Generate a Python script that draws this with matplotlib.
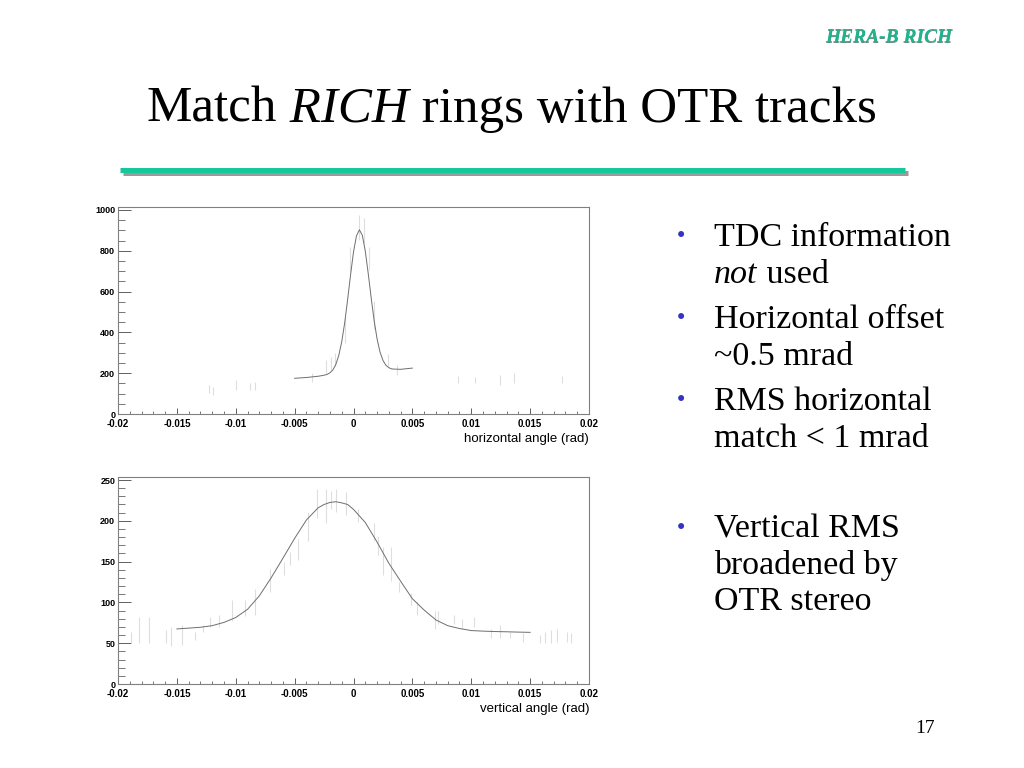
import matplotlib
matplotlib.use('Agg')
import matplotlib.pyplot as plt
from matplotlib.ticker import MultipleLocator
from matplotlib.lines import Line2D

# ---- data ----
# horizontal angle: fit curve
h_fit_x = [-0.005, -0.0045, -0.004, -0.0035, -0.003, -0.0025, -0.00225, -0.002, -0.00175,
           -0.0015, -0.00125, -0.001, -0.00075, -0.0005, -0.00025, 0.0, 0.00025, 0.0005,
           0.00075, 0.001, 0.00125, 0.0015, 0.00175, 0.002, 0.00225, 0.0025, 0.00275,
           0.003, 0.00325, 0.0035, 0.004, 0.0045, 0.005]
h_fit_y = [175, 177, 179, 182, 185, 190, 194, 202, 216, 243, 287, 354, 446, 560, 682, 794,
           873, 903, 876, 799, 689, 570, 459, 369, 304, 263, 239, 227, 221, 220, 219, 222, 225]

# horizontal angle: visible histogram bins (centre, content, error)
h_bin_x = [-0.0123, -0.0119, -0.0100, -0.0088, -0.0084, -0.0035, -0.0023, -0.0019, -0.0016,
           -0.0007, -0.0003, 0.0005, 0.0009, 0.0013, 0.0017, 0.0029, 0.0037, 0.0089, 0.0103,
           0.0124, 0.0136, 0.0177]
h_bin_y = [122, 113, 142, 134, 138, 179, 232, 248, 265, 412, 760, 914, 900, 763, 485, 265,
           216, 168, 165, 167, 176, 168]
h_bin_err = [20, 20, 25, 16, 20, 20, 33, 32, 32, 65, 60, 60, 60, 57, 70, 30, 25, 18, 15, 25, 26, 18]

# vertical angle: fit curve
v_fit_x = [-0.015, -0.014, -0.013, -0.012, -0.011, -0.010, -0.009, -0.008, -0.007, -0.006,
           -0.005, -0.004, -0.003, -0.0025, -0.002, -0.0015, -0.001, -0.0005, 0.0, 0.001,
           0.002, 0.003, 0.004, 0.005, 0.006, 0.007, 0.008, 0.009, 0.010, 0.011, 0.012,
           0.013, 0.014, 0.015]
v_fit_y = [67.5, 68.5, 69.5, 71.5, 75.5, 81.5, 91.5, 108, 130, 154, 178.5, 201, 216, 220,
           222.5, 223.4, 222, 220, 214, 198, 174, 148, 126, 104.5, 90.6, 78.5, 71.5, 68,
           65.5, 64.8, 64.3, 64, 63.6, 63.3]

# vertical angle: visible histogram bins
v_bin_x = [-0.0189, -0.0182, -0.0174, -0.0159, -0.0155, -0.0146, -0.0135, -0.0128, -0.0122,
           -0.0114, -0.0103, -0.0092, -0.0084, -0.0071, -0.0059, -0.0054, -0.0047, -0.0039,
           -0.0031, -0.0023, -0.0019, -0.0015, -0.0006, 0.0004, 0.0017, 0.0021, 0.0025,
           0.0032, 0.0039, 0.0049, 0.0054, 0.0069, 0.0072, 0.0085, 0.0092, 0.0102, 0.0117,
           0.0124, 0.0133, 0.0144, 0.0158, 0.0163, 0.0168, 0.0173, 0.0181, 0.0185]
v_bin_y = [57, 66, 66, 58, 58, 60, 59, 68, 76, 77, 90, 93, 101, 127, 142, 154, 165, 193, 221,
           218, 226, 225, 221, 207, 187, 170, 151, 147, 119, 104, 93, 79, 82, 79, 74, 76, 62,
           64, 60, 57, 55, 57, 58, 60, 58, 56]
v_bin_err = [7, 16, 16, 8, 12, 12, 5, 4, 6, 7, 13, 10, 16, 14, 8, 8, 13, 18, 18, 21, 11, 14,
             14, 8, 10, 12, 17, 21, 6, 7, 8, 11, 8, 5, 6, 6, 6, 8, 4, 5, 5, 7, 8, 8, 6, 6]

x_ticks = [-0.02, -0.015, -0.01, -0.005, 0.0, 0.005, 0.01, 0.015, 0.02]
x_tick_labels = ['-0.02', '-0.015', '-0.01', '-0.005', '0', '0.005', '0.01', '0.015', '0.02']
h_y_ticks = [0, 200, 400, 600, 800, 1000]
v_y_ticks = [0, 50, 100, 150, 200, 250]

title_runs = [('Match', 'normal'), (' RICH', 'italic'), (' rings with OTR tracks', 'normal')]
bullets = [
    [[('TDC information', 'normal')], [('not', 'italic'), (' used', 'normal')]],
    [[('Horizontal offset', 'normal')], [('~0.5 mrad', 'normal')]],
    [[('RMS horizontal', 'normal')], [('match < 1 mrad', 'normal')]],
    [[('Vertical RMS', 'normal')], [('broadened by', 'normal')], [('OTR stereo', 'normal')]],
]
bullet_baselines = [[246, 283], [328, 365], [410, 447], [538, 574, 610]]

W, H = 1024, 768
fig = plt.figure(figsize=(10.24, 7.68), dpi=100)
renderer = fig.canvas.get_renderer()
serif = 'Liberation Serif'
sans = 'Liberation Sans'


def put_runs(x_px, y_px, runs, size, color='black'):
    # draw text pieces one after the other on a common baseline
    for txt, style in runs:
        t = fig.text(x_px / W, 1 - y_px / H, txt, fontsize=size, family=serif,
                     style=style, ha='left', va='baseline', color=color)
        x_px = t.get_window_extent(renderer).x1
    return x_px


def style_axes(ax, ylim, yticks, yminor, xlabel):
    ax.set_xlim(-0.02, 0.02)
    ax.set_ylim(*ylim)
    ax.set_xticks(x_ticks)
    ax.set_xticklabels(x_tick_labels)
    ax.set_yticks(yticks)
    ax.xaxis.set_minor_locator(MultipleLocator(0.001))
    ax.yaxis.set_minor_locator(MultipleLocator(yminor))
    for s in ax.spines.values():
        s.set_color('#808080')
        s.set_linewidth(0.8)
    ax.tick_params(axis='x', which='major', direction='in', length=4.3, width=0.7,
                   color='#606060', pad=3.6)
    ax.tick_params(axis='x', which='minor', direction='in', length=2.3, width=0.6,
                   color='#606060')
    ax.tick_params(axis='y', which='major', direction='in', length=9.4, width=0.7,
                   color='#606060', pad=2)
    ax.tick_params(axis='y', which='minor', direction='in', length=4.8, width=0.6,
                   color='#606060')
    for lab in ax.get_xticklabels():
        lab.set_fontproperties({'family': sans, 'weight': 'bold', 'size': 7})
    for lab in ax.get_yticklabels():
        lab.set_fontproperties({'family': sans, 'weight': 'bold', 'size': 6.5})
    ax.set_xlabel(xlabel, loc='right', fontsize=9.5, family=sans)
    ax.xaxis.set_label_coords(1.0, -0.09)


# top: horizontal angle
ax1 = fig.add_axes([118 / W, 1 - 414 / H, 471 / W, 207 / H])
ax1.errorbar(h_bin_x, h_bin_y, yerr=h_bin_err, fmt='none', ecolor='#dedede', elinewidth=0.8)
ax1.plot(h_fit_x, h_fit_y, color='#6e6e6e', lw=0.7)
style_axes(ax1, (0, 1014.7), h_y_ticks, 50, 'horizontal angle (rad)')

# bottom: vertical angle
ax2 = fig.add_axes([118 / W, 1 - 684 / H, 471 / W, 207 / H])
ax2.errorbar(v_bin_x, v_bin_y, yerr=v_bin_err, fmt='none', ecolor='#dedede', elinewidth=0.8)
ax2.plot(v_fit_x, v_fit_y, color='#6e6e6e', lw=0.7)
style_axes(ax2, (0, 253.7), v_y_ticks, 10, 'vertical angle (rad)')

# header tag
fig.text(952.7 / W, 1 - 42.7 / H, 'HERA-B RICH', fontsize=14, family=serif, weight='bold',
         style='italic', ha='right', va='baseline', color='#5f8f80')
fig.text(952 / W, 1 - 42 / H, 'HERA-B RICH', fontsize=14, family=serif, weight='bold',
         style='italic', ha='right', va='baseline', color='#1db58e')

# title
put_runs(147, 122, title_runs, 36.7)

# teal rule with shadow
fig.add_artist(Line2D([123 / W, 908 / W], [1 - 173 / H, 1 - 173 / H], transform=fig.transFigure,
                      color='#9a9a9a', lw=3.6, solid_capstyle='butt'))
fig.add_artist(Line2D([120 / W, 905 / W], [1 - 170 / H, 1 - 170 / H], transform=fig.transFigure,
                      color='#14c89c', lw=3.6, solid_capstyle='butt'))

# bullets
for item, bases in zip(bullets, bullet_baselines):
    fig.text(681 / W, 1 - (bases[0] - 10) / H, '\u2022', fontsize=15, family='DejaVu Sans',
             ha='center', va='center', color='#3434c4')
    for line, base in zip(item, bases):
        put_runs(714, base, line, 24.5)

# page number
fig.text(935 / W, 1 - 733 / H, '17', fontsize=14, family=serif, ha='right', va='baseline')

fig.savefig('out.png', dpi=100)
